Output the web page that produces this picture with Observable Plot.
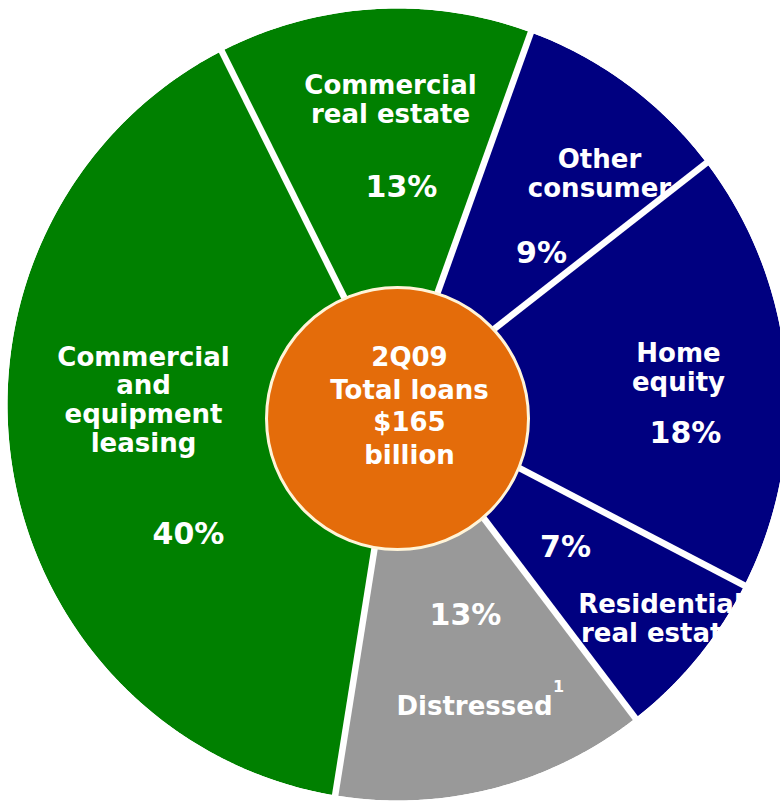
<!DOCTYPE html>
<html>
<head>
<meta charset="utf-8">
<script src="https://cdn.jsdelivr.net/npm/d3@7"></script>
<script src="https://cdn.jsdelivr.net/npm/@observablehq/plot@0.6"></script>
<style>
  html, body { margin: 0; padding: 0; background: #ffffff; }
  #chart svg { display: block; }
</style>
</head>
<body>
<div id="chart"></div>
<script>
// ---------- data ----------
const categories = ["Commercial real estate", "Other consumer", "Home equity", "Residential real estate", "Distressed", "Commercial and equipment leasing"];
const shares = [13, 9, 18, 7, 13, 40];
const sliceColors = ["#008000", "#000080", "#000080", "#000080", "#999999", "#008000"];
const nameLabels = ["Commercial\nreal estate", "Other\nconsumer", "Home\nequity", "Residential\nreal estate", "Distressed", "Commercial\nand\nequipment\nleasing"];
const centerText = "2Q09\nTotal loans\n$165\nbillion";
const footnoteMark = "1";

// ---------- layout ----------
const W = 780, H = 803;
const CX = 397, CY = 404, RX = 390, RY = 396;
const startAngle = -26.8 * Math.PI / 180;
const hole = {dx: 0, dy: 14, r: 131};
// label anchor positions (pixels), layout only
const namePos = [[390, 99], [599, 173], [678, 367], [660, 618], [474, 705], [143, 399]];
const pctPos = [[401, 187], [541, 253], [685, 433], [565, 547], [465, 615], [188, 534]];
const centerPos = [409, 404];
const footPos = [558, 686];

const table = categories.map((c, i) => ({name: c, share: shares[i], color: sliceColors[i], label: nameLabels[i], pct: shares[i] + "%"}));
const arcs = d3.pie().sort(null).value(d => d.share).startAngle(startAngle).endAngle(startAngle + 2 * Math.PI)(table);

const px = (a, k = 1) => CX + RX * k * Math.sin(a);
const py = (a, k = 1) => CY - RY * k * Math.cos(a);

const slicePts = [];
for (const a of arcs) {
  const n = Math.max(4, Math.ceil((a.endAngle - a.startAngle) / 0.005));
  slicePts.push({name: a.data.name, color: a.data.color, x: CX, y: CY});
  for (let i = 0; i <= n; i++) {
    const t = a.startAngle + (a.endAngle - a.startAngle) * i / n;
    slicePts.push({name: a.data.name, color: a.data.color, x: px(t), y: py(t)});
  }
  slicePts.push({name: a.data.name, color: a.data.color, x: CX, y: CY});
}

const gaps = arcs.map(a => ({x1: CX, y1: CY, x2: px(a.startAngle, 1.1), y2: py(a.startAngle, 1.1)}));

const maskPts = d3.range(0, 361).map(d => {
  const t = d * Math.PI / 180;
  return {x: CX + (RX + 60) * Math.sin(t), y: CY - (RY + 60) * Math.cos(t)};
});

const nameData = table.map((d, i) => ({text: d.label, x: namePos[i][0], y: namePos[i][1]}));
const pctData = table.map((d, i) => ({text: d.pct, x: pctPos[i][0], y: pctPos[i][1]}));

const font = "'DejaVu Sans', Verdana, sans-serif";

const chart = Plot.plot({
  width: W,
  height: H,
  margin: 0,
  x: {domain: [0, W], range: [0, W], axis: null},
  y: {domain: [0, H], range: [0, H], axis: null},
  color: {type: "identity"},
  style: {background: "#ffffff"},
  marks: [
    Plot.line(slicePts, {x: "x", y: "y", z: "name", fill: "color", stroke: "none", curve: "linear"}),
    Plot.link(gaps, {x1: "x1", y1: "y1", x2: "x2", y2: "y2", stroke: "white", strokeWidth: 6.5}),
    Plot.dot([{x: CX + hole.dx, y: CY + hole.dy}], {x: "x", y: "y", r: hole.r, fill: "#E46C0A", stroke: "#FFF4D8", strokeWidth: 3}),
    Plot.text(nameData, {x: "x", y: "y", text: "text", fill: "white", fontSize: 26, fontWeight: "bold", fontFamily: font, lineHeight: 1.1}),
    Plot.text(pctData, {x: "x", y: "y", text: "text", fill: "white", fontSize: 30, fontWeight: "bold", fontFamily: font}),
    Plot.text([{text: centerText, x: centerPos[0], y: centerPos[1]}], {x: "x", y: "y", text: "text", fill: "white", fontSize: 26, fontWeight: "bold", fontFamily: font, lineHeight: 1.26}),
    Plot.text([{text: footnoteMark, x: footPos[0], y: footPos[1]}], {x: "x", y: "y", text: "text", fill: "white", fontSize: 16, fontWeight: "bold", fontFamily: font}),
    Plot.line(maskPts, {x: "x", y: "y", stroke: "white", strokeWidth: 120, fill: "none"})
  ]
});
document.getElementById("chart").appendChild(chart);
</script>
</body>
</html>
